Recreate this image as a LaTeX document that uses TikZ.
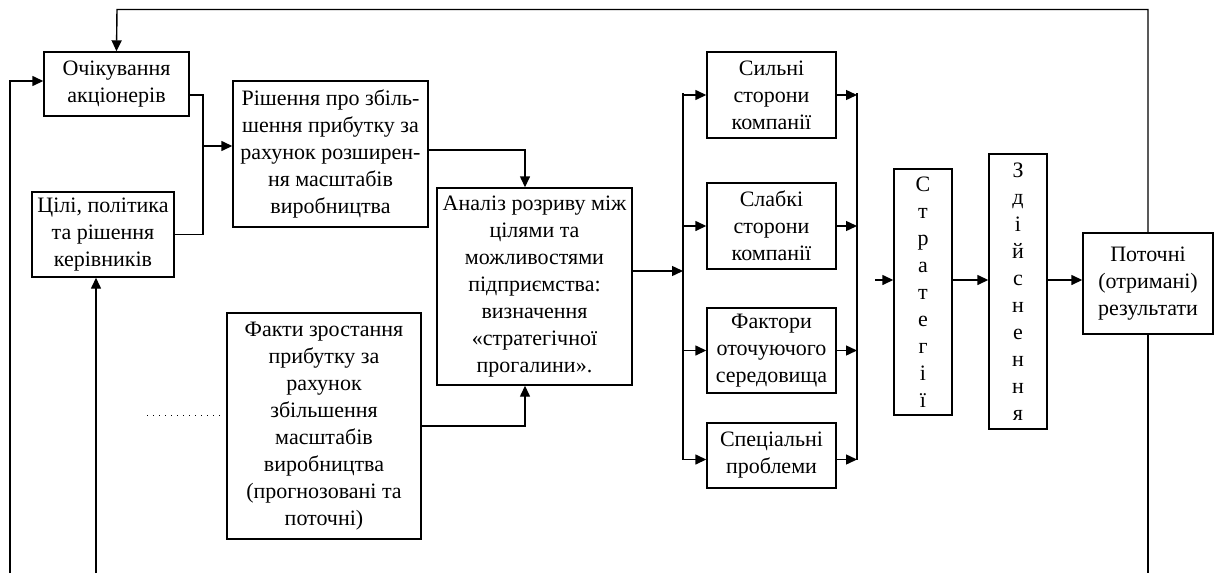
\documentclass[tikz,border=0pt]{standalone}
\usepackage{fontspec}
\setmainfont{Liberation Serif}
\usetikzlibrary{arrows.meta}

\begin{document}
\begin{tikzpicture}[x=1pt,y=-1pt,line width=1.4pt,
  blk/.style={draw,align=center,inner sep=0pt,font=\fontsize{22}{27}\selectfont},
  arr/.style={-{Triangle[length=11pt,width=10pt]}}]
\useasboundingbox (0,0) rectangle (1218,573);
\node[blk,minimum width=145,minimum height=64] (ochik) at (116.5,84) {Очікування\\акціонерів};
\node[blk,minimum width=195,minimum height=146] (rish) at (330.5,154) {Рішення про збіль-\\шення прибутку за\\рахунок розширен-\\ня масштабів\\виробництва};
\node[blk,minimum width=142,minimum height=85] (tsili) at (103,234.5) {Цілі, політика\\та рішення\\керівників};
\node[blk,minimum width=194,minimum height=226] (fakty) at (324,426) {Факти зростання\\прибутку за\\рахунок\\збільшення\\масштабів\\виробництва\\(прогнозовані та\\поточні)};
\node[blk,minimum width=195,minimum height=197] (analiz) at (534.5,286.5) {Аналіз розриву між\\цілями та\\можливостями\\підприємства:\\визначення\\«стратегічної\\прогалини».};
\node[blk,minimum width=129,minimum height=86] (sylni) at (771.5,95) {Сильні\\сторони\\компанії};
\node[blk,minimum width=129,minimum height=86] (slabki) at (771.5,226) {Слабкі\\сторони\\компанії};
\node[blk,minimum width=129,minimum height=85] (faktory) at (771.5,350.5) {Фактори\\оточуючого\\середовища};
\node[blk,minimum width=129,minimum height=65] (spets) at (771.5,455.5) {Спеціальні\\проблеми};
\node[blk,minimum width=58,minimum height=246] (strat) at (923,292) {С\\т\\р\\а\\т\\е\\г\\і\\ї};
\node[blk,minimum width=58,minimum height=275] (zdiys) at (1018,291.5) {З\\д\\і\\й\\с\\н\\е\\н\\н\\я};
\node[blk,minimum width=130,minimum height=101] (potochni) at (1148,283.5) {Поточні\\(отримані)\\результати};

% feedback loop
\coordinate (topl) at (117,9.5);
\coordinate (lowl) at (10,573);
\coordinate (lowm) at (96,573);
\draw[arr] (potochni.north) |- (topl) -- (ochik.north);
\draw (potochni.south) -- (potochni.south |- lowl);
\draw[arr] (lowl) |- ([yshift=3pt]ochik.west);
\draw[arr] (lowm) -- (lowm |- tsili.south);

% inputs of the decision
\coordinate (j1) at (203,146);
\draw ([yshift=-11pt]ochik.east) -| (j1) |- (tsili.east);
\draw[arr] (j1) -- (j1 -| rish.west);
\coordinate (j2) at (525,150);
\draw[arr] (rish.east |- j2) -| (j2 |- analiz.north);
\draw[arr] (fakty.east) -| (j2 |- analiz.south);
\coordinate (dots) at (147,415);
\draw[line width=1pt,dash pattern=on 1.4pt off 4.6pt] (dots) -- ([xshift=-5pt]fakty.west |- dots);

% SWOT buses
\coordinate (busl) at (683,271);
\coordinate (busr) at (857,280);
\draw[arr] (busl -| analiz.east) -- (busl);
\draw ([yshift=2pt]busl |- sylni.west) -- ([yshift=-4pt]busl |- spets.west);
\draw ([yshift=2pt]busr |- sylni.east) -- ([yshift=-4pt]busr |- spets.east);
\foreach \b in {sylni,slabki,faktory} {
  \draw[arr] (busl |- \b.west) -- (\b.west);
  \draw[arr] (\b.east) -- (busr |- \b.east);
}
\draw[arr] ([yshift=-4pt]busl |- spets.west) -- ([yshift=-4pt]spets.west);
\draw[arr] ([yshift=-4pt]spets.east) -- ([yshift=-4pt]busr |- spets.east);

% strategy row
\coordinate (row) at (875,280);
\draw[arr] (row) -- (row -| strat.west);
\draw[arr] (strat.east |- row) -- (zdiys.west |- row);
\draw[arr] (zdiys.east |- row) -- (potochni.west |- row);
\end{tikzpicture}
\end{document}
